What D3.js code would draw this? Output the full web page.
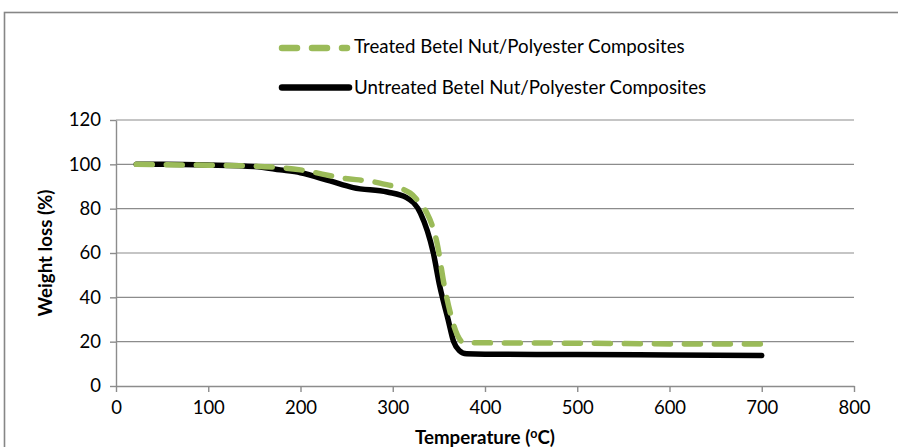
<!DOCTYPE html>
<html>
<head>
<meta charset="utf-8">
<script src="https://cdn.jsdelivr.net/npm/d3@7"></script>
<style>
  body { margin: 0; background: #fff; }
  svg text { font-family: Lato, "Noto Sans", sans-serif; fill: #000; }
</style>
</head>
<body>
<svg id="chart" width="898" height="447"></svg>
<script>
// Temperature (C) readings for each curve
var treatedTemp = [22, 50, 100, 150, 200, 243, 286, 319, 330, 337, 348, 356, 363, 370, 376, 390, 450, 500, 600, 700];
var treatedLoss = [100, 99.8, 99.6, 99.2, 97.5, 94, 91.5, 87, 82, 78, 64.5, 45, 32, 23, 19.8, 19.5, 19.4, 19.3, 19, 19];

var untreatedTemp = [22, 50, 100, 150, 178, 200, 232, 257, 294, 315, 330, 344, 351, 360, 366, 372, 380, 400, 500, 600, 700];
var untreatedLoss = [100, 100, 99.7, 99, 97.5, 96.2, 92.5, 89.5, 87.5, 85, 78, 60, 45, 30, 20, 16, 14.5, 14.3, 14.2, 14, 13.8];

var xTicks = [0, 100, 200, 300, 400, 500, 600, 700, 800];
var yTicks = [0, 20, 40, 60, 80, 100, 120];
var seriesNames = ["Treated Betel Nut/Polyester Composites", "Untreated Betel Nut/Polyester Composites"];

var svg = d3.select("#chart");

// outer chart border
svg.append("rect")
    .attr("x", 4.5).attr("y", 12.5)
    .attr("width", 920).attr("height", 460)
    .attr("fill", "none")
    .attr("stroke", "#868686")
    .attr("stroke-width", 1.6);

var x = d3.scaleLinear().domain([0, 800]).range([116, 854]);
var y = d3.scaleLinear().domain([0, 120]).range([386, 120]);

// gridlines
svg.append("g").selectAll("line")
    .data(yTicks.filter(function (d) { return d > 0; }))
    .enter().append("line")
    .attr("x1", x(0)).attr("x2", x(800))
    .attr("y1", function (d) { return y(d); })
    .attr("y2", function (d) { return y(d); })
    .attr("stroke", "#8c8c8c")
    .attr("stroke-width", 1.2);

var xAxis = svg.append("g")
    .attr("transform", "translate(0," + y(0) + ")")
    .call(d3.axisBottom(x).tickValues(xTicks).tickSize(6).tickSizeOuter(0).tickPadding(9));

var yAxis = svg.append("g")
    .attr("transform", "translate(" + x(0) + ",0)")
    .call(d3.axisLeft(y).tickValues(yTicks).tickSize(6).tickSizeOuter(0).tickPadding(9));

[xAxis, yAxis].forEach(function (g) {
    g.select(".domain").attr("stroke", "#8c8c8c").attr("stroke-width", 1.4);
    g.selectAll(".tick line").attr("stroke", "#8c8c8c").attr("stroke-width", 1.4);
    g.selectAll(".tick text")
        .style("font-family", "Lato, 'Noto Sans', sans-serif")
        .style("font-size", "18.5px")
        .attr("fill", "#000");
});

var line = d3.line()
    .x(function (d) { return x(d[0]); })
    .y(function (d) { return y(d[1]); })
    .curve(d3.curveMonotoneX);

var untreated = untreatedTemp.map(function (t, i) { return [t, untreatedLoss[i]]; });
var treated = treatedTemp.map(function (t, i) { return [t, treatedLoss[i]]; });

svg.append("path")
    .datum(untreated)
    .attr("d", line)
    .attr("fill", "none")
    .attr("stroke", "#000")
    .attr("stroke-width", 5.5)
    .attr("stroke-linecap", "round")
    .attr("stroke-linejoin", "round");

svg.append("path")
    .datum(treated)
    .attr("d", line)
    .attr("fill", "none")
    .attr("stroke", "#9bbb59")
    .attr("stroke-width", 5.5)
    .attr("stroke-dasharray", "16,14")
    .attr("stroke-linecap", "round");

// legend
var legend = svg.append("g");
legend.append("line")
    .attr("x1", 282).attr("x2", 347).attr("y1", 48).attr("y2", 48)
    .attr("stroke", "#9bbb59").attr("stroke-width", 6.5)
    .attr("stroke-dasharray", "15,15").attr("stroke-linecap", "round");
legend.append("text")
    .attr("x", 354).attr("y", 53)
    .style("font-size", "18.7px")
    .text(seriesNames[0]);
legend.append("line")
    .attr("x1", 282).attr("x2", 349).attr("y1", 87.5).attr("y2", 87.5)
    .attr("stroke", "#000").attr("stroke-width", 6.5)
    .attr("stroke-linecap", "round");
legend.append("text")
    .attr("x", 354).attr("y", 94)
    .style("font-size", "18.7px")
    .text(seriesNames[1]);

// axis titles
svg.append("text")
    .attr("transform", "translate(52," + y(60) + ") rotate(-90)")
    .attr("text-anchor", "middle")
    .style("font-size", "18.7px")
    .style("font-weight", "bold")
    .text("Weight loss (%)");

var xt = svg.append("text")
    .attr("x", x(400)).attr("y", 444)
    .attr("text-anchor", "middle")
    .style("font-size", "18.7px")
    .style("font-weight", "bold");
xt.append("tspan").text("Temperature (");
xt.append("tspan").attr("dy", -6).style("font-size", "12.5px").text("o");
xt.append("tspan").attr("dy", 6).text("C)");
</script>
</body>
</html>
